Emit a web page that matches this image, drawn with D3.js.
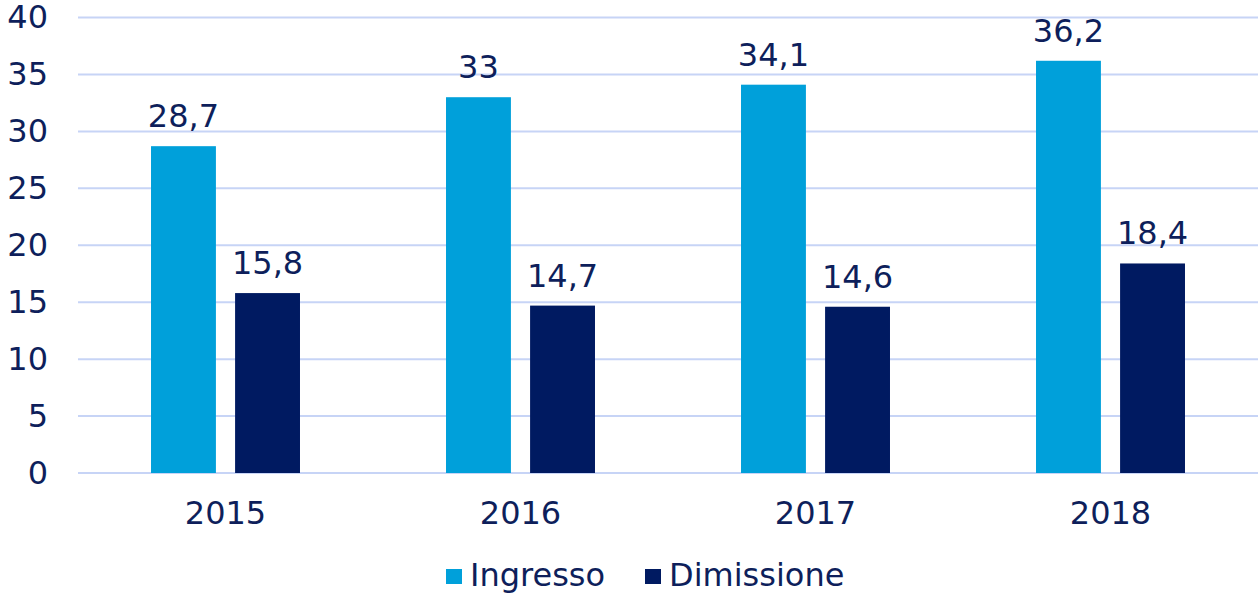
<!DOCTYPE html>
<html>
<head>
<meta charset="utf-8">
<script src="https://cdn.jsdelivr.net/npm/d3@7"></script>
<style>
  body { margin: 0; background: #fff; }
  svg text { font-family: "DejaVu Sans", Verdana, sans-serif; fill: #0e1f5b; }
</style>
</head>
<body>
<div id="chart"></div>
<script>
// values
var years = ["2015", "2016", "2017", "2018"];
var ingresso = [28.7, 33, 34.1, 36.2];
var dimissione = [15.8, 14.7, 14.6, 18.4];
var seriesNames = ["Ingresso", "Dimissione"];
var seriesColors = ["#00a0da", "#001a61"];
var yTicks = [0, 5, 10, 15, 20, 25, 30, 35, 40];

var W = 1258, H = 594;
var plotLeft = 78, plotRight = 1258, plotTop = 17.5, plotBottom = 473;
var fontSize = 32;

var svg = d3.select("#chart").append("svg")
    .attr("width", W)
    .attr("height", H);

var x = d3.scaleBand().domain(years).range([plotLeft, plotRight]);
var y = d3.scaleLinear().domain([0, 40]).range([plotBottom, plotTop]);

var barW = x.bandwidth() * 0.22,
    gap = x.bandwidth() * 0.065;

// gridlines
svg.append("g").selectAll("line")
    .data(yTicks)
    .enter().append("line")
    .attr("x1", plotLeft).attr("x2", plotRight)
    .attr("y1", function(d) { return y(d); })
    .attr("y2", function(d) { return y(d); })
    .attr("stroke", "#c7d4f6")
    .attr("stroke-width", 2);

// y axis labels
var yAxis = svg.append("g")
    .attr("transform", "translate(" + plotLeft + ",0)")
    .call(d3.axisLeft(y).tickValues(yTicks).tickSize(0).tickPadding(30));
yAxis.select(".domain").remove();
yAxis.selectAll("text")
    .attr("font-size", fontSize)
    .attr("font-family", "DejaVu Sans, Verdana, sans-serif")
    .attr("fill", "#0e1f5b");

// x axis labels
var xAxis = svg.append("g")
    .attr("transform", "translate(0," + plotBottom + ")")
    .call(d3.axisBottom(x).tickSize(0).tickPadding(28));
xAxis.select(".domain").remove();
xAxis.selectAll("text")
    .attr("font-size", fontSize)
    .attr("font-family", "DejaVu Sans, Verdana, sans-serif")
    .attr("fill", "#0e1f5b");

var series = [ingresso, dimissione];
series.forEach(function(vals, s) {
    var offset = s == 0 ? -gap / 2 - barW : gap / 2;
    var g = svg.append("g");
    g.selectAll("rect")
        .data(vals)
        .enter().append("rect")
        .attr("x", function(d, i) { return x(years[i]) + x.bandwidth() / 2 + offset; })
        .attr("y", function(d) { return y(d); })
        .attr("width", barW)
        .attr("height", function(d) { return plotBottom - y(d); })
        .attr("fill", seriesColors[s]);
    g.selectAll("text")
        .data(vals)
        .enter().append("text")
        .attr("x", function(d, i) { return x(years[i]) + x.bandwidth() / 2 + offset + barW / 2; })
        .attr("y", function(d) { return y(d) - 19; })
        .attr("text-anchor", "middle")
        .attr("font-size", fontSize)
        .text(function(d) { return String(d).replace(".", ","); });
});

// legend
var legend = svg.append("g");
var legX = [446, 645];
seriesNames.forEach(function(name, i) {
    legend.append("rect")
        .attr("x", legX[i]).attr("y", 569)
        .attr("width", 16).attr("height", 15)
        .attr("fill", seriesColors[i]);
    legend.append("text")
        .attr("x", legX[i] + 24).attr("y", 586)
        .attr("font-size", fontSize)
        .text(name);
});
</script>
</body>
</html>
